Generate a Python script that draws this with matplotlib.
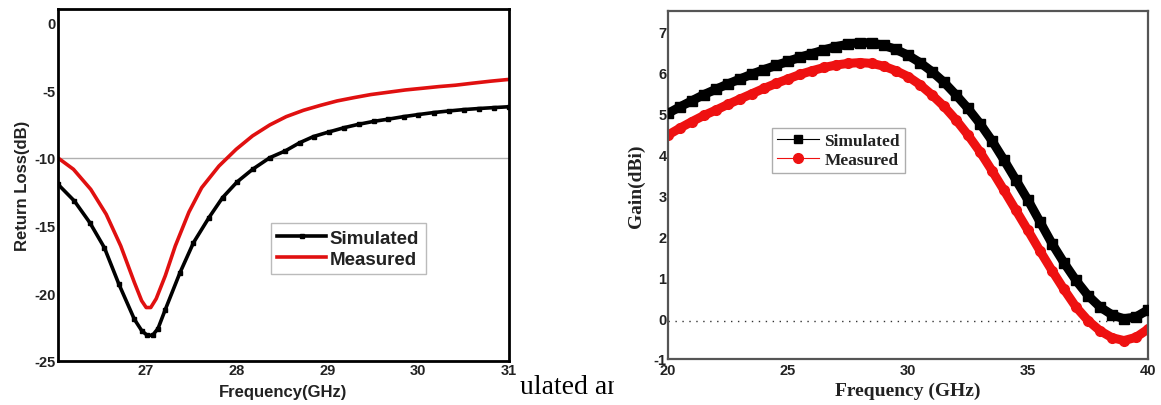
import matplotlib
matplotlib.use("Agg")
import matplotlib.pyplot as plt
from matplotlib.lines import Line2D
from matplotlib.transforms import Bbox

plt.rcParams["axes.unicode_minus"] = False

# Return loss (left panel)
rl_freq_sim = [26.04, 26.22, 26.39, 26.55, 26.71, 26.88, 26.96, 27.02, 27.08, 27.14, 27.22,
               27.38, 27.53, 27.70, 27.85, 28.01, 28.18, 28.37, 28.54, 28.70, 28.85, 29.02,
               29.19, 29.35, 29.52, 29.67, 29.84, 30.00, 30.17, 30.34, 30.50, 30.67,
               30.84, 31.0]
rl_sim = [-11.95, -13.18, -14.78, -16.63, -19.33, -21.92, -22.75, -23.1, -23.1, -22.6, -21.2,
          -18.5, -16.26, -14.41, -12.93, -11.77, -10.84, -9.98, -9.48, -8.87, -8.42, -8.08,
          -7.76, -7.51, -7.29, -7.14, -6.95, -6.80, -6.65, -6.53, -6.43, -6.35,
          -6.28, -6.22]
rl_freq_meas = [26.04, 26.21, 26.40, 26.57, 26.73, 26.88, 26.96, 27.01, 27.06, 27.12, 27.22,
                27.33, 27.48, 27.62, 27.81, 28.0, 28.18, 28.37, 28.55, 28.74, 28.93, 29.11,
                29.30, 29.48, 29.67, 29.86, 30.04, 30.23, 30.41, 30.60, 30.80, 31.0]
rl_meas = [-10.0, -10.84, -12.32, -14.16, -16.5, -19.2, -20.55, -21.05, -21.05, -20.4, -18.7,
           -16.5, -14.0, -12.2, -10.6, -9.36, -8.37, -7.56, -6.95, -6.48, -6.11, -5.79,
           -5.54, -5.32, -5.15, -4.98, -4.86, -4.73, -4.63, -4.48, -4.33, -4.2]

# Gain (right panel)
g_freq = [20, 20.5, 21, 21.5, 22, 22.5, 23, 23.5, 24, 24.5, 25, 25.5, 26, 26.5, 27, 27.5,
          28, 28.5, 29, 29.5, 30, 30.5, 31, 31.5, 32, 32.5, 33, 33.5, 34, 34.5, 35, 35.5,
          36, 36.5, 37, 37.5, 38, 38.5, 39, 39.5, 40]
g_sim = [5.0, 5.16, 5.31, 5.46, 5.59, 5.72, 5.84, 5.96, 6.07, 6.17, 6.27, 6.37, 6.46, 6.55,
         6.63, 6.69, 6.73, 6.72, 6.66, 6.56, 6.42, 6.24, 6.02, 5.76, 5.45, 5.12, 4.75,
         4.33, 3.86, 3.37, 2.88, 2.35, 1.82, 1.35, 0.92, 0.55, 0.27, 0.08, -0.02, 0.03, 0.2]
g_meas = [4.47, 4.64, 4.80, 4.95, 5.08, 5.22, 5.35, 5.48, 5.61, 5.73, 5.84, 5.95, 6.04,
          6.12, 6.18, 6.22, 6.24, 6.22, 6.15, 6.04, 5.9, 5.7, 5.45, 5.17, 4.84, 4.47, 4.06,
          3.6, 3.12, 2.63, 2.14, 1.64, 1.16, 0.7, 0.27, -0.06, -0.31, -0.48, -0.55, -0.47,
          -0.27]

SANS = "Liberation Sans"
SERIF = "Liberation Serif"

fig = plt.figure(figsize=(11.61, 4.06), dpi=100)

# ---- left: return loss ----
ax1 = fig.add_axes([58 / 1161, 44 / 406, 451 / 1161, 352 / 406])
ax1.axhline(-10, color="#b0b0b0", lw=1.0, zorder=1)
ax1.plot(rl_freq_meas, rl_meas, color="#e01010", lw=2.6, label="Measured", zorder=2)
ax1.plot(rl_freq_sim, rl_sim, color="black", lw=2.6, marker="s", ms=3.2,
         label="Simulated", zorder=3)
ax1.set_xlim(26.04, 31)
ax1.set_ylim(-25, 1)
ax1.set_xticks([27, 28, 29, 30, 31])
ax1.set_yticks([-25, -20, -15, -10, -5, 0])
ax1.tick_params(length=0, pad=1.5)
for lab in ax1.get_xticklabels() + ax1.get_yticklabels():
    lab.set_fontfamily(SANS)
    lab.set_fontweight("bold")
    lab.set_fontsize(10.5)
    lab.set_color("#222222")
for sp in ax1.spines.values():
    sp.set_linewidth(2.0)
    sp.set_color("black")
ax1.set_xlabel("Frequency(GHz)", fontfamily=SANS, fontweight="bold", fontsize=12,
               color="#222222", labelpad=5)
ax1.set_ylabel("Return Loss(dB)", fontfamily=SANS, fontweight="bold", fontsize=12,
               color="#222222", labelpad=3)
handles, labels = ax1.get_legend_handles_labels()
leg1 = ax1.legend(handles[::-1], labels[::-1], loc="upper left",
                  bbox_to_anchor=(0.472, 0.392), borderaxespad=0, frameon=True,
                  fancybox=False, edgecolor="#aaaaaa", handlelength=2.6,
                  handletextpad=0.2, borderpad=0.35, labelspacing=0.2,
                  prop={"family": SANS, "weight": "bold", "size": 13.5})
leg1.get_frame().set_linewidth(1.0)
for t in leg1.get_texts():
    t.set_color("#222222")

# ---- right: gain ----
ax2 = fig.add_axes([668 / 1161, 46 / 406, 480 / 1161, 348 / 406])
ax2.axhline(-0.07, color="#333333", lw=1.0, ls=(0, (1, 4)), zorder=1)
ax2.plot(g_freq, g_sim, color="black", lw=6.5, marker="s", ms=6.5, label="Simulated",
         zorder=3)
ax2.plot(g_freq, g_meas, color="#ee1111", lw=6.5, marker="o", ms=7, label="Measured",
         zorder=2)
ax2.set_xlim(20, 40)
ax2.set_ylim(-1, 7.5)
ax2.set_xticks([20, 25, 30, 35, 40])
ax2.set_yticks(range(-1, 8))
ax2.tick_params(axis="x", length=0, pad=3)
ax2.tick_params(axis="y", length=0, pad=1)
for lab in ax2.get_xticklabels() + ax2.get_yticklabels():
    lab.set_fontfamily(SANS)
    lab.set_fontweight("bold")
    lab.set_fontsize(10.5)
    lab.set_color("#222222")
for sp in ax2.spines.values():
    sp.set_linewidth(1.6)
    sp.set_color("#555555")
ax2.set_xlabel("Frequency (GHz)", fontfamily=SERIF, fontweight="bold", fontsize=14,
               color="#222222", labelpad=3)
ax2.set_ylabel("Gain(dBi)", fontfamily=SERIF, fontweight="bold", fontsize=14,
               color="#222222", labelpad=6)

# legend handles with thin line and one marker
h_sim = Line2D([], [], color="black", lw=0.8, marker="s", ms=6)
h_meas = Line2D([], [], color="#ee1111", lw=0.8, marker="o", ms=7)
leg2 = ax2.legend([h_sim, h_meas], ["Simulated", "Measured"], loc="upper left",
                  bbox_to_anchor=(0.217, 0.664), borderaxespad=0, frameon=True,
                  fancybox=False, edgecolor="#999999", handlelength=2.4,
                  handletextpad=0.3, borderpad=0.3, labelspacing=0.15,
                  prop={"family": SERIF, "weight": "bold", "size": 12.5})
leg2.get_frame().set_linewidth(1.0)
for t in leg2.get_texts():
    t.set_color("#222222")

# stray caption fragment between the panels
cap = fig.text(520 / 1161, 1 - 394 / 406, "ulated and", fontfamily=SERIF, fontsize=20,
               color="black", ha="left", va="baseline")
cap.set_clip_box(Bbox.from_extents(0, 0, 614, 406))
cap.set_clip_on(True)

fig.savefig("out.png", dpi=100, facecolor="white")
